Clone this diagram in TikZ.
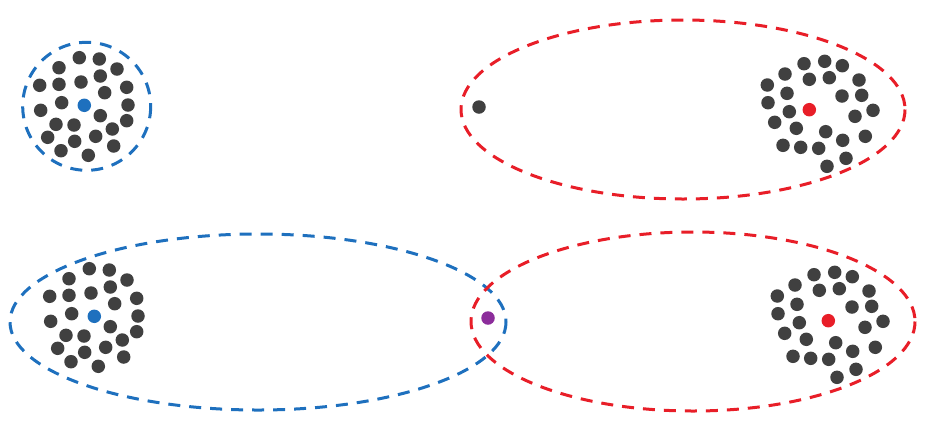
\documentclass[tikz,border=0pt]{standalone}
\definecolor{cblue}{RGB}{30,112,190}
\definecolor{cred}{RGB}{232,30,40}
\definecolor{cdark}{RGB}{64,64,64}
\definecolor{cpurple}{RGB}{140,45,155}
\tikzset{
  dot/.style={circle,inner sep=0pt,minimum size=13.5pt,fill=#1,draw=none},
  dot/.default=cdark,
  ring/.style={draw=#1,line width=3pt,dash pattern=on 12pt off 9pt}
}
\begin{document}
\begin{tikzpicture}[x=1pt,y=-1pt]
\useasboundingbox (0,0) rectangle (925,424);
\def\Lpts{79.3/57.7, 99.3/59, 59/67.7, 117/69, 39.7/85.3, 59/84.3, 81/82, 100.3/76, 126.7/87.3, 104.7/92.7, 61.7/102.7, 128/105, 40.7/110.3, 100.3/115.7, 126.7/120.7, 56/124.3, 74/125, 112.3/129, 47.7/137.3, 74.7/141.3, 95.7/136.3, 113.7/146, 61/150.7, 88.3/155.3}
\def\Rpts{804/63.7, 824.7/61.3, 842.3/65.7, 785/74, 809.3/79.3, 829.3/77.7, 859/80, 767.3/85, 787/93.3, 842/96, 861.7/95.3, 768/102.7, 789.3/111.7, 873/110.3, 855/116.3, 774.7/122.3, 796.3/128.3, 825.7/131.7, 865.3/136.3, 842.7/140.3, 783/145.3, 800.7/147.3, 818.7/148.3, 846/158.3, 827/166.3}
% top-left cluster
\draw[ring=cblue] (86.7,106.3) circle[radius=64];
\foreach \p/\q [count=\i] in \Lpts {\node[dot] (tl\i) at (\p,\q) {};}
\node[dot=cblue] (tlc) at (84.3,105.3) {};
% top-right cluster
\draw[ring=cred] (683,109.5) ellipse[x radius=222, y radius=89.5];
\foreach \p/\q [count=\i] in \Rpts {\node[dot] (tr\i) at (\p,\q) {};}
\node[dot=cred] (trc) at (809.3,109.7) {};
\node[dot] (lone) at (479,107) {};
% bottom-left cluster
\draw[ring=cblue] (258,322) ellipse[x radius=248, y radius=88];
\begin{scope}[shift={(10,211)}]
\foreach \p/\q [count=\i] in \Lpts {\node[dot] (bl\i) at (\p,\q) {};}
\node[dot=cblue] (blc) at (84.3,105.3) {};
\end{scope}
% bottom-right cluster
\draw[ring=cred] (693,321.5) ellipse[x radius=222, y radius=89.5];
\begin{scope}[shift={(10,211)}]
\foreach \p/\q [count=\i] in \Rpts {\node[dot] (br\i) at (\p,\q) {};}
\end{scope}
\node[dot=cred] (brc) at (828.3,320.7) {};
\node[dot=cpurple] (mid) at (488,318) {};
\end{tikzpicture}
\end{document}
